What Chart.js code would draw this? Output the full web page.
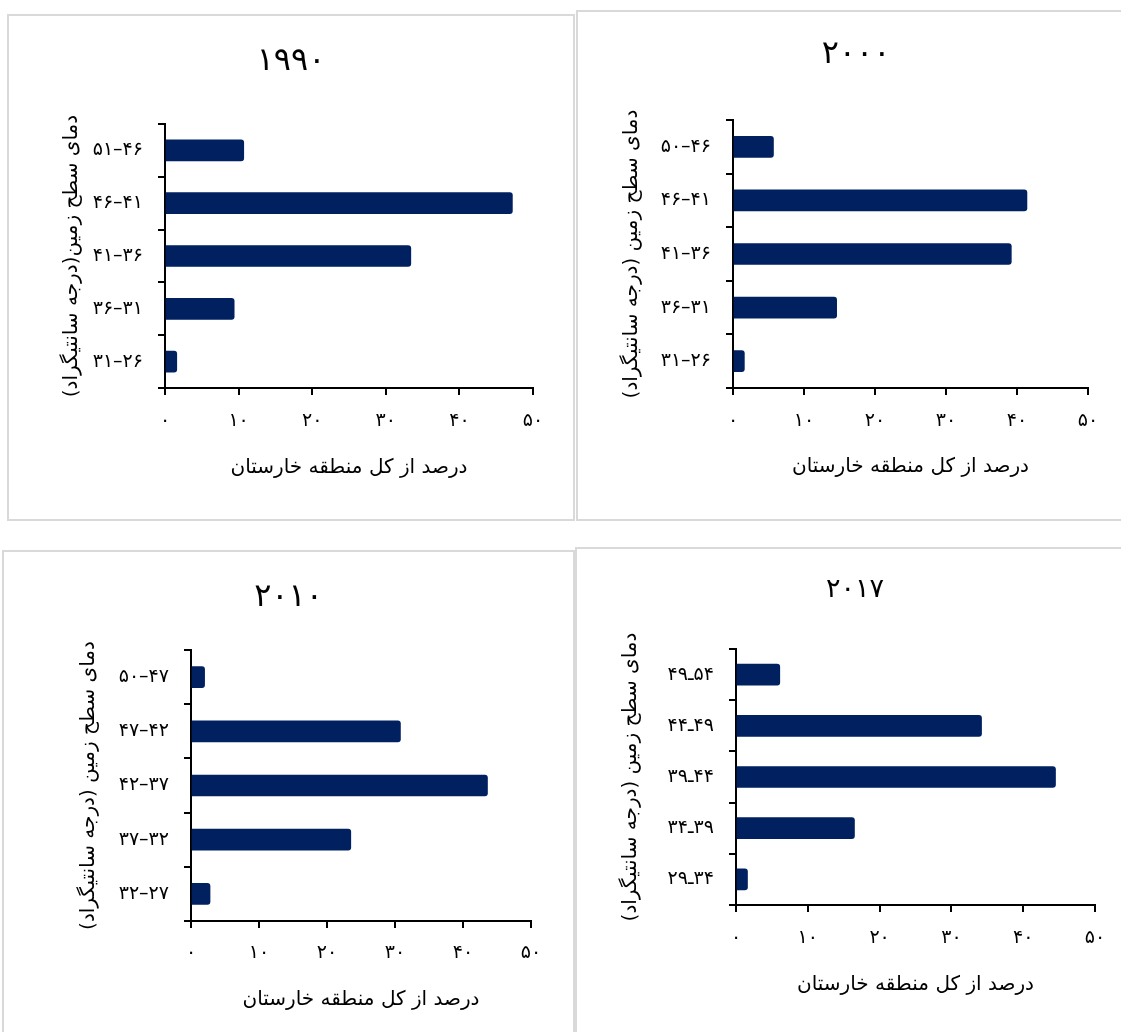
<!DOCTYPE html>
<html lang="fa">
<head>
<meta charset="utf-8">
<title>دمای سطح زمین - خارستان</title>
<script src="https://cdn.jsdelivr.net/npm/chart.js@4.4.1/dist/chart.umd.min.js"></script>
<style>
  html, body { margin: 0; padding: 0; background: #fff; overflow: hidden; width: 1121px; height: 1032px; }
  .panel { position: absolute; border: 2px solid #d9d9d9; box-sizing: border-box; }
  .panel canvas { position: absolute; left: 0; top: 0; direction: rtl; }
</style>
</head>
<body>
<div class="panel" id="p1990"><canvas id="c1990"></canvas></div>
<div class="panel" id="p2000"><canvas id="c2000"></canvas></div>
<div class="panel" id="p2010"><canvas id="c2010"></canvas></div>
<div class="panel" id="p2017"><canvas id="c2017"></canvas></div>
<script>
// داده ها
var years = ['۱۹۹۰', '۲۰۰۰', '۲۰۱۰', '۲۰۱۷'];

var labels1990 = ['۴۶–۵۱', '۴۱–۴۶', '۳۶–۴۱', '۳۱–۳۶', '۲۶–۳۱'];
var values1990 = [10.7, 47.2, 33.4, 9.4, 1.6];

var labels2000 = ['۴۶–۵۰', '۴۱–۴۶', '۳۶–۴۱', '۳۱–۳۶', '۲۶–۳۱'];
var values2000 = [5.7, 41.4, 39.2, 14.6, 1.6];

var labels2010 = ['۴۷–۵۰', '۴۲–۴۷', '۳۷–۴۲', '۳۲–۳۷', '۲۷–۳۲'];
var values2010 = [2.0, 30.8, 43.6, 23.5, 2.8];

var labels2017 = ['۵۴ـ۴۹', '۴۹ـ۴۴', '۴۴ـ۳۹', '۳۹ـ۳۴', '۳۴ـ۲۹'];
var values2017 = [6.1, 34.2, 44.5, 16.5, 1.6];

var xTickLabels = ['۰', '۱۰', '۲۰', '۳۰', '۴۰', '۵۰'];
var xTitle = 'درصد از کل منطقه خارستان';
var yTitle1990 = 'دمای سطح زمین(درجه سانتیگراد)';
var yTitle = 'دمای سطح زمین (درجه سانتیگراد)';

var FONT = '"DejaVu Sans", sans-serif';
var BAR = '#002060';

// ساخت هر نمودار در جای خودش
function createPanel(key, box, geo, title, labels, values, yText) {
    var div = document.getElementById('p' + key);
    div.style.left = box.left + 'px';
    div.style.top = box.top + 'px';
    div.style.width = box.width + 'px';
    div.style.height = box.height + 'px';

    var ox = box.left + 2, oy = box.top + 2;
    var cw = box.width - 4, ch = box.height - 4;
    var canvas = document.getElementById('c' + key);
    canvas.width = cw;
    canvas.height = ch;

    var tickSize = 19, tickLH = tickSize * 1.2;
    var axisSize = 20, axisLH = axisSize * 1.2;
    var titleLH = geo.titleSize * 1.2;
    var xHeight = 100;
    var tickLen = 7;

    // padding چپ و راست برابر تا عنوان وسط کادر بیفتد
    var side = cw - (geo.right - ox);
    var yWidth = geo.axisX - ox - side;
    var padBottom = ch - (geo.bottom - oy) - xHeight;
    var titlePadTop = (geo.titleY - oy) - titleLH / 2;
    var titlePadBottom = (geo.top - oy) - titlePadTop - titleLH;

    return new Chart(canvas.getContext('2d'), {
        type: 'bar',
        data: {
            labels: labels,
            datasets: [{
                data: values,
                backgroundColor: BAR,
                borderWidth: 0,
                borderRadius: 3,
                borderSkipped: 'start',
                barThickness: 21
            }]
        },
        options: {
            indexAxis: 'y',
            responsive: false,
            animation: false,
            devicePixelRatio: 1,
            layout: { padding: { left: side, top: 0, right: side, bottom: padBottom } },
            plugins: {
                legend: { display: false },
                tooltip: { enabled: false },
                title: {
                    display: true,
                    text: title,
                    color: '#000',
                    font: { family: FONT, size: geo.titleSize, weight: 'normal' },
                    padding: { top: titlePadTop, bottom: titlePadBottom }
                }
            },
            scales: {
                x: {
                    type: 'linear',
                    min: 0,
                    max: 50,
                    afterFit: function(scale) { scale.height = xHeight; },
                    ticks: {
                        stepSize: 10,
                        color: '#000',
                        font: { family: FONT, size: tickSize },
                        padding: (geo.xTickY - geo.bottom) - tickLen - tickLH / 2,
                        maxRotation: 0,
                        callback: function(v, i) { return xTickLabels[i]; }
                    },
                    grid: { drawOnChartArea: false, drawTicks: true, tickLength: tickLen, color: '#000', lineWidth: 2 },
                    border: { display: true, color: '#000', width: 2 },
                    title: {
                        display: true,
                        text: xTitle,
                        color: '#000',
                        font: { family: FONT, size: axisSize },
                        padding: { top: 0, bottom: (geo.bottom + xHeight) - geo.xTitleY - axisLH / 2 }
                    }
                },
                y: {
                    afterFit: function(scale) { scale.width = yWidth; },
                    ticks: {
                        color: '#000',
                        font: { family: FONT, size: tickSize },
                        padding: 15
                    },
                    grid: { offset: true, drawOnChartArea: false, drawTicks: true, tickLength: tickLen, color: '#000', lineWidth: 2 },
                    border: { display: true, color: '#000', width: 2 },
                    title: {
                        display: true,
                        text: yText,
                        color: '#000',
                        font: { family: FONT, size: axisSize },
                        padding: { top: (geo.yTitleX - ox) - side - axisLH / 2, bottom: 0 }
                    }
                }
            }
        }
    });
}

createPanel('1990',
    { left: 7, top: 14, width: 568, height: 507 },
    { axisX: 165, top: 124, bottom: 388, right: 533, titleY: 62, titleSize: 32, xTickY: 421, xTitleY: 468, yTitleX: 72 },
    years[0], labels1990, values1990, yTitle1990);

createPanel('2000',
    { left: 576, top: 10, width: 560, height: 511 },
    { axisX: 733, top: 120, bottom: 388, right: 1088, titleY: 55, titleSize: 32, xTickY: 421, xTitleY: 467, yTitleX: 632 },
    years[1], labels2000, values2000, yTitle);

createPanel('2010',
    { left: 2, top: 550, width: 573, height: 500 },
    { axisX: 191, top: 650, bottom: 921, right: 531, titleY: 598, titleSize: 32, xTickY: 953, xTitleY: 1000, yTitleX: 89 },
    years[2], labels2010, values2010, yTitle);

createPanel('2017',
    { left: 575, top: 547, width: 560, height: 500 },
    { axisX: 736, top: 649, bottom: 905, right: 1095, titleY: 590, titleSize: 27, xTickY: 938, xTitleY: 985, yTitleX: 631 },
    years[3], labels2017, values2017, yTitle);
</script>
</body>
</html>
